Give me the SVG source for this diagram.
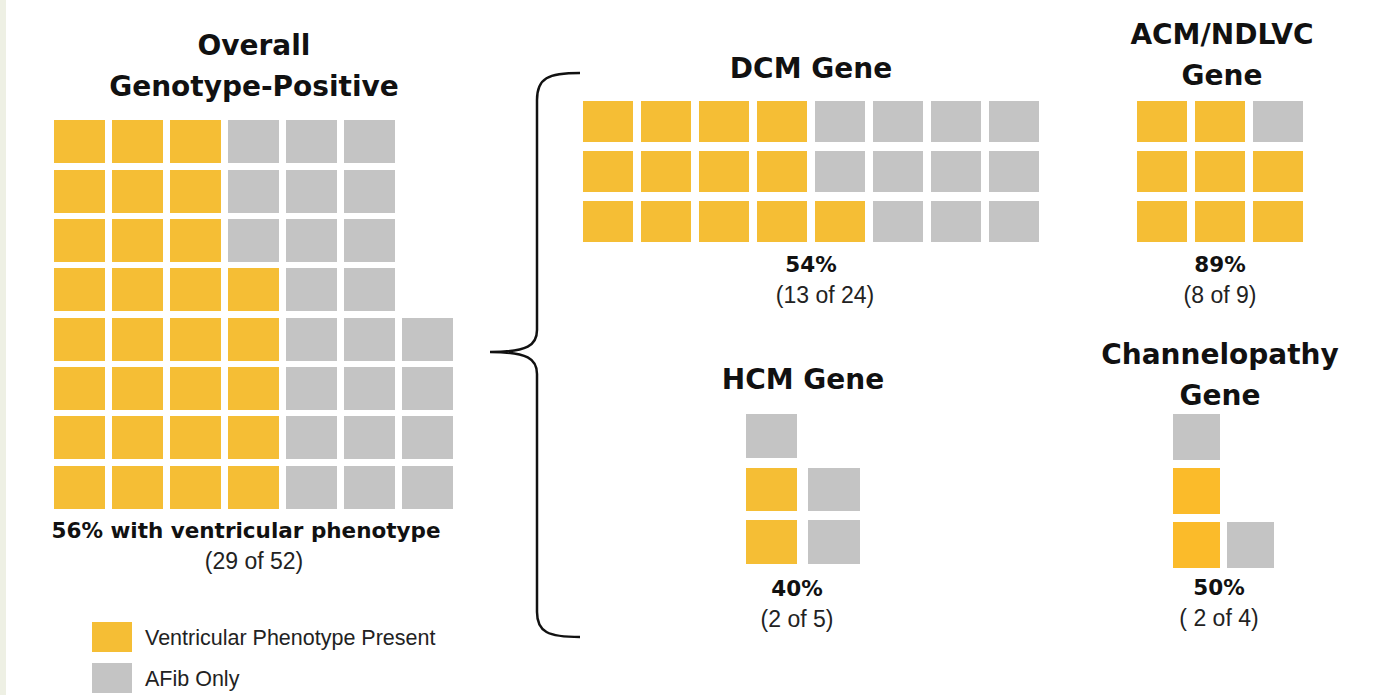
<svg xmlns="http://www.w3.org/2000/svg" width="1373" height="695" viewBox="0 0 1373 695">
<style>
.y{fill:#f5be35}.g{fill:#c4c4c4}
.t{font-family:"DejaVu Sans","Liberation Sans",sans-serif;font-weight:bold;font-size:28px;fill:#111;text-anchor:middle}
.p{font-family:"DejaVu Sans","Liberation Sans",sans-serif;font-weight:bold;font-size:21.5px;fill:#111;text-anchor:middle}
.s{font-family:"Liberation Sans",Arial,sans-serif;font-size:23px;fill:#222;text-anchor:middle}
.l{font-family:"Liberation Sans",Arial,sans-serif;font-size:21.5px;fill:#222}
</style>
<defs>
<rect id="a" width="51" height="43"/>
<rect id="d" width="50" height="41"/>
</defs>
<rect width="1373" height="695" fill="#eef0e4"/>
<rect x="6" y="0" width="1367" height="695" fill="#fff"/>
<g id="overall">
<text class="t" x="254" y="55">Overall</text>
<text class="t" x="254" y="96">Genotype-Positive</text>
<g class="y">
<use href="#a" x="54" y="120"/><use href="#a" x="112" y="120"/><use href="#a" x="170" y="120"/>
<use href="#a" x="54" y="170"/><use href="#a" x="112" y="170"/><use href="#a" x="170" y="170"/>
<use href="#a" x="54" y="219"/><use href="#a" x="112" y="219"/><use href="#a" x="170" y="219"/>
<use href="#a" x="54" y="268"/><use href="#a" x="112" y="268"/><use href="#a" x="170" y="268"/><use href="#a" x="228" y="268"/>
<use href="#a" x="54" y="318"/><use href="#a" x="112" y="318"/><use href="#a" x="170" y="318"/><use href="#a" x="228" y="318"/>
<use href="#a" x="54" y="367"/><use href="#a" x="112" y="367"/><use href="#a" x="170" y="367"/><use href="#a" x="228" y="367"/>
<use href="#a" x="54" y="416"/><use href="#a" x="112" y="416"/><use href="#a" x="170" y="416"/><use href="#a" x="228" y="416"/>
<use href="#a" x="54" y="466"/><use href="#a" x="112" y="466"/><use href="#a" x="170" y="466"/><use href="#a" x="228" y="466"/>
</g>
<g class="g">
<use href="#a" x="228" y="120"/><use href="#a" x="286" y="120"/><use href="#a" x="344" y="120"/>
<use href="#a" x="228" y="170"/><use href="#a" x="286" y="170"/><use href="#a" x="344" y="170"/>
<use href="#a" x="228" y="219"/><use href="#a" x="286" y="219"/><use href="#a" x="344" y="219"/>
<use href="#a" x="286" y="268"/><use href="#a" x="344" y="268"/>
<use href="#a" x="286" y="318"/><use href="#a" x="344" y="318"/><use href="#a" x="402" y="318"/>
<use href="#a" x="286" y="367"/><use href="#a" x="344" y="367"/><use href="#a" x="402" y="367"/>
<use href="#a" x="286" y="416"/><use href="#a" x="344" y="416"/><use href="#a" x="402" y="416"/>
<use href="#a" x="286" y="466"/><use href="#a" x="344" y="466"/><use href="#a" x="402" y="466"/>
</g>
<text class="p" x="246" y="538">56% with ventricular phenotype</text>
<text class="s" x="254" y="569">(29 of 52)</text>
</g>
<g id="connectors">
<path d="M580,73 C548,73 537,78 537,100 L537,330 C537,345 528,352 490,352 C528,352 537,359 537,374 L537,612 C537,632 548,637 580,637" fill="none" stroke="#111" stroke-width="2.5"/>
</g>
<g id="dcm">
<text class="t" x="811" y="78">DCM Gene</text>
<g class="y">
<use href="#d" x="583" y="101"/><use href="#d" x="641" y="101"/><use href="#d" x="699" y="101"/><use href="#d" x="757" y="101"/>
<use href="#d" x="583" y="151"/><use href="#d" x="641" y="151"/><use href="#d" x="699" y="151"/><use href="#d" x="757" y="151"/>
<use href="#d" x="583" y="201"/><use href="#d" x="641" y="201"/><use href="#d" x="699" y="201"/><use href="#d" x="757" y="201"/><use href="#d" x="815" y="201"/>
</g>
<g class="g">
<use href="#d" x="815" y="101"/><use href="#d" x="873" y="101"/><use href="#d" x="931" y="101"/><use href="#d" x="989" y="101"/>
<use href="#d" x="815" y="151"/><use href="#d" x="873" y="151"/><use href="#d" x="931" y="151"/><use href="#d" x="989" y="151"/>
<use href="#d" x="873" y="201"/><use href="#d" x="931" y="201"/><use href="#d" x="989" y="201"/>
</g>
<text class="p" x="811" y="272">54%</text>
<text class="s" x="825" y="303">(13 of 24)</text>
</g>
<g id="acm">
<text class="t" x="1222" y="44">ACM/NDLVC</text>
<text class="t" x="1222" y="85">Gene</text>
<g class="y">
<use href="#d" x="1137" y="101"/><use href="#d" x="1195" y="101"/>
<use href="#d" x="1137" y="151"/><use href="#d" x="1195" y="151"/><use href="#d" x="1253" y="151"/>
<use href="#d" x="1137" y="201"/><use href="#d" x="1195" y="201"/><use href="#d" x="1253" y="201"/>
</g>
<use class="g" href="#d" x="1253" y="101"/>
<text class="p" x="1220" y="272">89%</text>
<text class="s" x="1220" y="303">(8 of 9)</text>
</g>
<g id="hcm">
<text class="t" x="803" y="389">HCM Gene</text>
<rect class="g" x="746" y="414" width="51" height="44"/>
<rect class="y" x="746" y="468" width="51" height="43"/>
<rect class="g" x="808" y="468" width="52" height="43"/>
<rect class="y" x="746" y="520" width="51" height="44"/>
<rect class="g" x="808" y="520" width="52" height="44"/>
<text class="p" x="797" y="596">40%</text>
<text class="s" x="797" y="627">(2 of 5)</text>
</g>
<g id="channel">
<text class="t" x="1220" y="364">Channelopathy</text>
<text class="t" x="1220" y="405">Gene</text>
<rect class="g" x="1173" y="414" width="47" height="46"/>
<rect fill="#fbbb2a" x="1173" y="468" width="47" height="46"/>
<rect fill="#fbbb2a" x="1173" y="522" width="47" height="46"/>
<rect class="g" x="1227" y="522" width="47" height="46"/>
<text class="p" x="1219" y="595">50%</text>
<text class="s" x="1219" y="626">( 2 of 4)</text>
</g>
<g id="legend">
<rect class="y" x="92" y="622" width="40" height="30"/>
<rect class="g" x="92" y="663" width="40" height="30"/>
<text class="l" x="145" y="645">Ventricular Phenotype Present</text>
<text class="l" x="145" y="686">AFib Only</text>
</g>
</svg>
